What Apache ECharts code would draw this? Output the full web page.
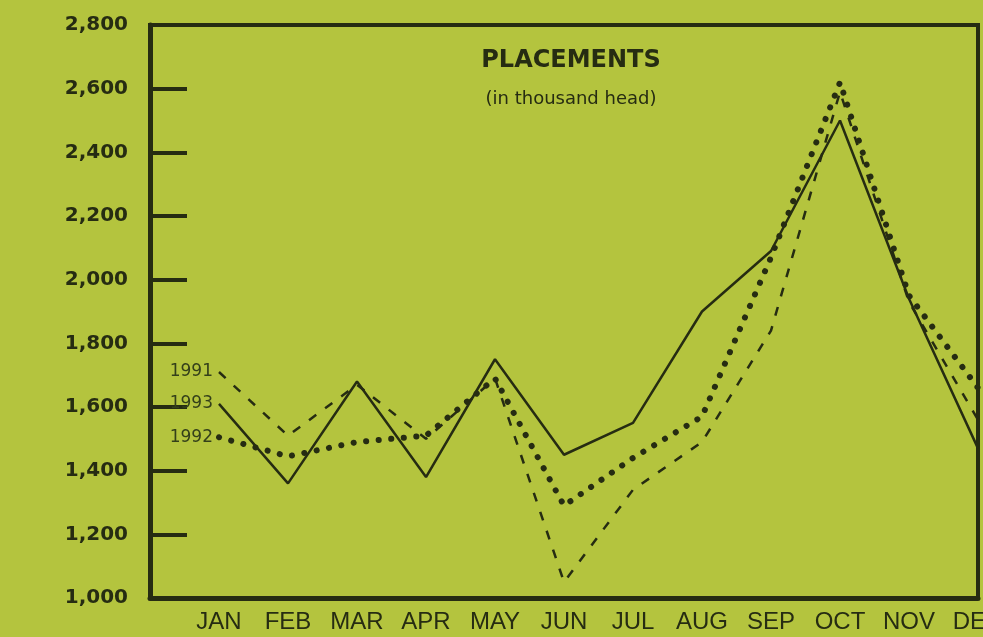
<!DOCTYPE html>
<html>
<head>
<meta charset="utf-8">
<script src="https://cdn.jsdelivr.net/npm/echarts@6/dist/echarts.min.js"></script>
<style>
html,body{margin:0;padding:0;background:#b4c43e;}
#c{width:983px;height:637px;}
</style>
</head>
<body>
<div id="c"></div>
<script>
const months = ['JAN','FEB','MAR','APR','MAY','JUN','JUL','AUG','SEP','OCT','NOV','DEC'];
const y1991 = [1710, 1510, 1670, 1500, 1690, 1050, 1340, 1490, 1840, 2590, 1930, 1560];
const y1992 = [1505, 1445, 1490, 1510, 1690, 1290, 1440, 1570, 2070, 2620, 1950, 1660];
const y1993 = [1610, 1360, 1680, 1380, 1750, 1450, 1550, 1900, 2090, 2500, 1940, 1470];
const seriesNames = ['1991', '1992', '1993'];
const yMin = 1000, yMax = 2800, yStep = 200;

const ink = '#262c12';

function pts(arr, name) {
  return arr.map((v, i) => i === 0
    ? { value: [i, v], label: { show: true, formatter: name } }
    : [i, v]);
}

const labelStyle = {
  position: 'left', distance: 6, color: '#34401a',
  fontFamily: 'DejaVu Sans', fontSize: 17, fontWeight: 'normal'
};

const chart = echarts.init(document.getElementById('c'), null, { renderer: 'canvas' });
chart.setOption({
  backgroundColor: '#b4c43e',
  animation: false,
  title: {
    text: 'PLACEMENTS',
    subtext: '(in thousand head)',
    left: 566, top: 44, textAlign: 'center', itemGap: 17,
    textStyle: { fontFamily: 'DejaVu Sans', fontWeight: 'bold', fontSize: 24, color: ink },
    subtextStyle: { fontFamily: 'DejaVu Sans', fontWeight: 'normal', fontSize: 18, color: ink }
  },
  grid: {
    left: 150, right: 5, top: 25, bottom: 39, containLabel: false, outerBoundsMode: 'none',
    show: true, borderColor: ink, borderWidth: 4
  },
  xAxis: {
    type: 'value', min: -1, max: months.length - 1, interval: 1,
    splitLine: { show: false },
    axisTick: { show: false },
    axisLine: { show: true, onZero: false, lineStyle: { color: ink, width: 5 } },
    axisLabel: {
      margin: 12, color: ink, fontFamily: 'Liberation Sans', fontSize: 24,
      formatter: v => months[v] || '', showMinLabel: true, showMaxLabel: true, hideOverlap: false
    }
  },
  yAxis: {
    type: 'value', min: yMin, max: yMax, interval: yStep,
    splitLine: { show: false },
    axisLine: { show: true, onZero: false, lineStyle: { color: ink, width: 5 } },
    axisTick: { show: true, inside: true, length: 37, lineStyle: { color: ink, width: 4 } },
    axisLabel: {
      margin: 22, color: ink, fontFamily: 'DejaVu Sans', fontWeight: 'bold', fontSize: 20,
      formatter: v => v.toLocaleString('en-US')
    }
  },
  series: [
    {
      name: seriesNames[0], type: 'line', data: pts(y1991, seriesNames[0]),
      showSymbol: true, symbol: 'circle', symbolSize: 0,
      lineStyle: { color: ink, width: 2.5, type: [9, 11] },
      itemStyle: { color: ink }, label: Object.assign({ show: false }, labelStyle)
    },
    {
      name: seriesNames[1], type: 'line', data: pts(y1992, seriesNames[1]),
      showSymbol: true, symbol: 'circle', symbolSize: 0,
      lineStyle: { color: ink, width: 6, type: [0.1, 12.5], cap: 'round' },
      itemStyle: { color: ink }, label: Object.assign({ show: false }, labelStyle)
    },
    {
      name: seriesNames[2], type: 'line', data: pts(y1993, seriesNames[2]),
      showSymbol: true, symbol: 'circle', symbolSize: 0,
      lineStyle: { color: ink, width: 2.5, type: 'solid' },
      itemStyle: { color: ink }, label: Object.assign({ show: false }, labelStyle)
    }
  ]
});
</script>
</body>
</html>
